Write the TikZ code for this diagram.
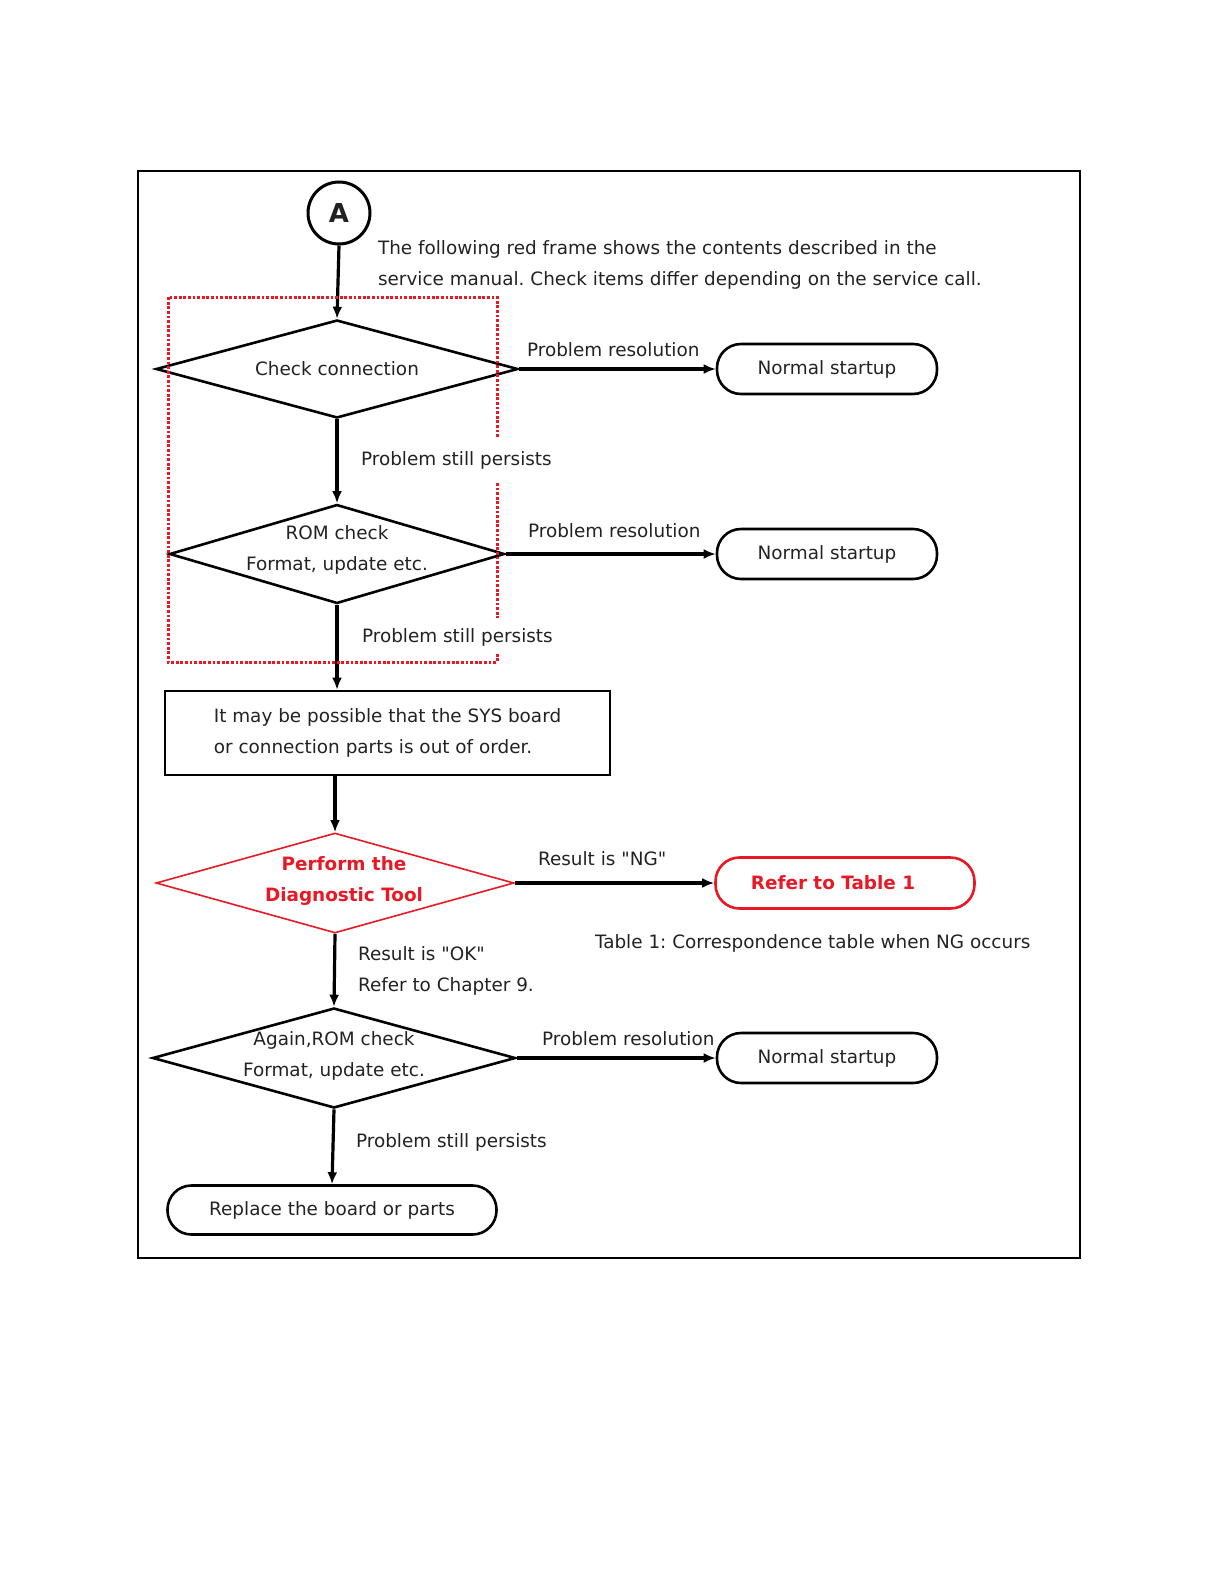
\documentclass[tikz,border=0pt]{standalone}
\usepackage{fontspec}
\setmainfont{DejaVu Sans}
\usetikzlibrary{positioning,arrows.meta,shapes.geometric}
\definecolor{diagred}{RGB}{232,24,36}
\definecolor{inkgray}{RGB}{34,34,34}
\newcommand\dq{\XeTeXglyph\XeTeXcharglyph"22\relax}

\begin{document}
\frenchspacing
\begin{tikzpicture}[x=0.5pt,y=-0.5pt,
        every node/.style={font=\fontsize{9.2pt}{15.5pt}\selectfont, text=inkgray},
        decision/.style={draw, diamond, line width=1.3pt, inner sep=0pt},
        terminal/.style={draw, rectangle, rounded corners=12pt, line width=1.3pt,
          minimum width=110pt, minimum height=25pt},
        alert/.style={text=diagred, font=\fontsize{9.2pt}{15.5pt}\selectfont\bfseries},
        flow/.style={-{Latex[length=6pt,width=5pt]}, line width=1.6pt},
        note/.style={anchor=west, align=left},
        redframe/.style={diagred, line width=1.5pt, dash pattern=on 1.4pt off 0.9pt}]
        \useasboundingbox (0,0) rectangle (1224,1584);
        \draw[line width=0.6pt] (138,171) rectangle (1080,1258);

        \node[draw, circle, line width=1.5pt, minimum size=31pt, inner sep=0pt,
        font=\fontsize{13pt}{15pt}\selectfont\bfseries] (start) at (339,213) {A};
        \node[note] (intro) at (371,264.5) {The following red frame shows the
        contents described in the\\service manual. Check items differ depending
        on the service call.};

        \node[decision, minimum width=181pt, minimum height=49pt] (chk) at (337,369) {};
        \node (chktext) at (chk) {Check connection};
        \node[terminal] (ns1) at (827,369) {Normal startup};

        \node[decision, minimum width=167.5pt, minimum height=49.5pt] (rom) at (337,554) {};
        \node[align=center] (romtext) at ([yshift=2pt]rom) {ROM check\\Format, update etc.};
        \node[terminal] (ns2) at (827,554) {Normal startup};

        \node[draw, line width=1.3pt, minimum width=222.5pt, minimum height=42pt,
        align=left] (sys) at (387.5,733) {It may be possible that the SYS board\\or
        connection parts is out of order.};

        \node[decision, draw=diagred, line width=0.8pt, minimum width=179pt,
        minimum height=50pt] (diag) at (335,883) {};
        \node[alert, align=center] (diagtext) at ([xshift=4.5pt,yshift=1pt]diag)
        {Perform the\\Diagnostic Tool};
        \node[terminal, draw=diagred, minimum width=129.5pt, minimum height=25.5pt]
        (refer) at (845,883) {};
        \node[alert] (refertext) at ([xshift=-6pt]refer) {Refer to Table 1};

        \node[decision, minimum width=181.5pt, minimum height=50pt] (again) at (334,1058) {};
        \node[align=center] (againtext) at ([yshift=1pt]again) {Again,ROM check\\Format,
        update etc.};
        \node[terminal] (ns3) at (827,1058) {Normal startup};

        \node[terminal, minimum width=164.5pt, minimum height=24.5pt] (repl) at (332,1210)
        {Replace the board or parts};

        \draw[flow] (start.south) -- (chk.north);
        \draw[flow] (chk.east) -- (ns1.west);
        \draw[flow] (chk.south) -- (rom.north);
        \draw[flow] (rom.east) -- (ns2.west);
        \draw[flow] (rom.south) -- (rom.south |- sys.north);
        \draw[flow] (diag.north |- sys.south) -- (diag.north);
        \draw[flow] (diag.east) -- (refer.west);
        \draw[flow] (diag.south) -- (again.north);
        \draw[flow] (again.east) -- (ns3.west);
        \draw[flow] (again.south) -- (repl.north);

        \node[note] (res1) at (520,350) {Problem resolution};
        \node[note] (per1) at (354,460) {Problem still persists};
        \node[note] (res2) at (521,531) {Problem resolution};
        \node[note] (per2) at (355,637) {Problem still persists};
        \node[note] (resng) at (531,859) {Result is \dq NG\dq};
        \node[note] (table) at (588,943) {Table 1: Correspondence table when NG occurs};
        \node[note] (resok) at (351,970.5) {Result is \dq OK\dq\\Refer to Chapter 9.};
        \node[note] (res3) at (535,1039) {Problem resolution};
        \node[note] (per3) at (349,1142) {Problem still persists};

        \draw[redframe] (497,437) -- (497,297) -- (168,297) -- (168,662) -- (497,662)
        -- (497,654);
        \draw[redframe] (497,483) -- (497,618);
      \end{tikzpicture}
\end{document}
